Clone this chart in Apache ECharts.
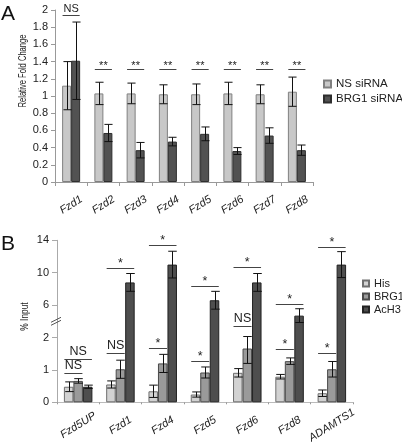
<!DOCTYPE html>
<html><head><meta charset="utf-8">
<script src="https://cdn.jsdelivr.net/npm/echarts@6/dist/echarts.min.js"></script>
<style>html,body{margin:0;padding:0;background:#fff}#c{width:402px;height:448px}</style>
</head><body><div id="c"></div>
<script>
// ---------- Panel A data ----------
const catsA = ['Fzd1','Fzd2','Fzd3','Fzd4','Fzd5','Fzd6','Fzd7','Fzd8'];
const nsA = [1.12,1.03,1.03,1.02,1.02,1.03,1.02,1.05];
const nsAErr = [0.28,0.13,0.12,0.11,0.12,0.13,0.11,0.17];
const brgA = [1.41,0.57,0.37,0.47,0.56,0.36,0.54,0.37];
const brgAErr = [0.45,0.10,0.09,0.05,0.08,0.04,0.09,0.06];
const sigAHeights = [1.94,1.31,1.31,1.31,1.31,1.31,1.31,1.31];
const sigALabels = ['NS','**','**','**','**','**','**','**'];

// ---------- Panel B data ----------
const catsB = ['Fzd5UP','Fzd1','Fzd4','Fzd5','Fzd6','Fzd8','ADAMTS1'];
const hisB = [0.48,0.55,0.34,0.24,0.91,0.79,0.28];
const hisBErr = [0.15,0.11,0.19,0.08,0.13,0.07,0.10];
const brgB = [0.66,1.02,1.20,0.92,1.66,1.27,1.02];
const brgBErr = [0.07,0.28,0.28,0.17,0.46,0.10,0.24];
const achB = [0.48,8.8,11.0,6.6,8.8,4.7,11.0];
const achBErr = [0.05,1.1,1.65,1.1,1.1,0.85,1.6];
const tickLabelsB = ['0','1','2','6','10','14'];
const sigBCats = [0,0,1,1,2,2,3,3,4,4,5,5,6,6];
const sigBFrom = [0,0,0,0,0,0,0,0,0,0,0,0,0,0];
const sigBTo   = [2,1,2,1,2,1,2,1,2,1,2,1,2,1];
const sigBHeights = [1.35,0.89,10.6,1.53,13.45,1.69,8.35,1.27,10.7,3.39,6.18,1.63,13.2,1.51];
const sigBLabels = ['NS','NS','*','NS','*','*','*','*','*','NS','*','*','*','*'];

// broken axis: 0-2 linear, above 2 compressed 4:1
const tfB = v => v <= 2 ? v : 2 + (v - 2) / 4;
const idA = v => v;
const FONT = 'Liberation Sans, Arial, sans-serif';

function errSeries(vals, errs, idx, n, bw, ai, tf) {
  return {
    type:'custom', xAxisIndex:ai, yAxisIndex:ai, z:5, silent:true,
    data: vals.map((v,i)=>[i, tf(v-errs[i]), tf(v+errs[i])]),
    renderItem(params, api) {
      const lo = api.coord([api.value(0), api.value(1)]);
      const hi = api.coord([api.value(0), api.value(2)]);
      const x = Math.round(lo[0] + (idx - (n-1)/2)*bw) + 0.5;
      const c = bw*0.45;
      const st = {stroke:'#111', lineWidth:1};
      return {type:'group', children:[
        {type:'line', shape:{x1:x,y1:hi[1],x2:x,y2:lo[1]}, style:st},
        {type:'line', shape:{x1:x-c,y1:hi[1],x2:x+c,y2:hi[1]}, style:st},
        {type:'line', shape:{x1:x-c,y1:lo[1],x2:x+c,y2:lo[1]}, style:st}]};
    }
  };
}
function sigSeries(cats, from, to, heights, labels, n, bw, ai, tf, fs) {
  return {
    type:'custom', xAxisIndex:ai, yAxisIndex:ai, z:6, silent:true,
    data: cats.map((c,i)=>[c, tf(heights[i]), from[i], to[i]]),
    renderItem(params, api) {
      const p = api.coord([api.value(0), api.value(1)]);
      const f = api.value(2), t = api.value(3);
      const x0 = p[0] + (f-(n-1)/2)*bw - 0.45*bw;
      const x1 = p[0] + (t-(n-1)/2)*bw + 0.45*bw;
      const y = Math.round(p[1]) + 0.5;
      const lab = labels[params.dataIndex];
      return {type:'group', children:[
        {type:'line', shape:{x1:x0,y1:y,x2:x1,y2:y}, style:{stroke:'#444', lineWidth:1}},
        {type:'text', x:(x0+x1)/2, y: lab === 'NS' ? y-1 : y+2,
         style:{text:lab, fill:'#222', font: fs+'px '+FONT, align:'center', verticalAlign:'bottom'}}]};
    }
  };
}
function breakSeries() {
  return {
    type:'custom', xAxisIndex:1, yAxisIndex:1, z:7, silent:true,
    data: [[0, tfB(4)]],
    renderItem(params, api) {
      const p = api.coord([0, api.value(1)]);
      const x = params.coordSys.x, y = p[1];
      const st = {stroke:'#555', lineWidth:1};
      return {type:'group', children:[
        {type:'line', shape:{x1:x-6,y1:y+1,x2:x+4,y2:y-4}, style:st},
        {type:'line', shape:{x1:x-6,y1:y+4,x2:x+4,y2:y-1}, style:st}]};
    }
  };
}

const bwA = 9, bwB = 9.5;
const axisLabelX = {rotate:32, align:'center', verticalAlign:'middle', margin:23,
  fontStyle:'italic', fontSize:11, color:'#222', fontFamily:FONT};

const chart = echarts.init(document.getElementById('c'));
chart.setOption({
  animation:false,
  textStyle:{fontFamily:FONT},
  grid:[
    {left:55, top:10, width:258, height:172},
    {left:57, top:240.3, width:296, height:162}
  ],
  xAxis:[
    {type:'category', gridIndex:0, data:catsA,
     axisLine:{lineStyle:{color:'#999'}},
     axisTick:{show:true, length:4, lineStyle:{color:'#999'}},
     axisLabel:axisLabelX},
    {type:'category', gridIndex:1, data:catsB,
     axisLine:{lineStyle:{color:'#bbb'}},
     axisTick:{show:true, length:2, lineStyle:{color:'#999'}},
     axisLabel:axisLabelX}
  ],
  yAxis:[
    {type:'value', gridIndex:0, min:0, max:2, interval:0.2,
     axisLine:{show:true, lineStyle:{color:'#999'}},
     axisTick:{show:true, length:4, lineStyle:{color:'#999'}},
     splitLine:{show:false},
     axisLabel:{fontSize:11, color:'#222', margin:7}},
    {type:'value', gridIndex:1, min:0, max:5, interval:1,
     axisLine:{show:true, lineStyle:{color:'#aaa'}},
     axisTick:{show:true, length:5, lineStyle:{color:'#aaa'}},
     splitLine:{show:false},
     axisLabel:{fontSize:11, color:'#222', margin:8, formatter:v=>tickLabelsB[v]}}
  ],
  legend:[
    {data:['NS siRNA','BRG1 siRNA'], orient:'vertical', left:318, top:73,
     itemWidth:7, itemHeight:7, itemGap:3, icon:'rect',
     textStyle:{fontSize:11.5, color:'#222', fontFamily:FONT}},
    {data:['His','BRG1','AcH3'], orient:'vertical', left:357, top:272,
     itemWidth:6, itemHeight:6, itemGap:0, icon:'rect',
     textStyle:{fontSize:11, lineHeight:13, color:'#222', fontFamily:FONT}}
  ],
  graphic:[
    {type:'text', x:1, y:14.5, style:{text:'A', font:'21px '+FONT, fill:'#111', verticalAlign:'middle'}},
    {type:'text', x:1, y:244.5, style:{text:'B', font:'21px '+FONT, fill:'#111', verticalAlign:'middle'}},
    {type:'text', x:23, y:71, rotation:Math.PI/2, scaleX:0.69,
     style:{text:'Relative Fold Change', font:'11px '+FONT, fill:'#222', align:'center', verticalAlign:'middle'}},
    {type:'text', x:25, y:316.5, rotation:Math.PI/2, scaleX:0.76,
     style:{text:'% Input', font:'11px '+FONT, fill:'#222', align:'center', verticalAlign:'middle'}}
  ],
  series:[
    {name:'NS siRNA', type:'bar', xAxisIndex:0, yAxisIndex:0, data:nsA, barWidth:bwA, barGap:'0%',
     itemStyle:{color:'#c8c8c8', borderColor:'#808080', borderWidth:1}},
    {name:'BRG1 siRNA', type:'bar', xAxisIndex:0, yAxisIndex:0, data:brgA, barWidth:bwA, barGap:'0%',
     itemStyle:{color:'#525252', borderColor:'#2e2e2e', borderWidth:1}},
    errSeries(nsA, nsAErr, 0, 2, bwA, 0, idA),
    errSeries(brgA, brgAErr, 1, 2, bwA, 0, idA),
    sigSeries(catsA.map((c,i)=>i), catsA.map(()=>0), catsA.map(()=>1), sigAHeights, sigALabels, 2, bwA, 0, idA, 11),

    {name:'His', type:'bar', xAxisIndex:1, yAxisIndex:1, data:hisB.map(tfB), barWidth:bwB, barGap:'0%',
     itemStyle:{color:'#d2d2d2', borderColor:'#6e6e6e', borderWidth:1}},
    {name:'BRG1', type:'bar', xAxisIndex:1, yAxisIndex:1, data:brgB.map(tfB), barWidth:bwB, barGap:'0%',
     itemStyle:{color:'#9a9a9a', borderColor:'#4a4a4a', borderWidth:1}},
    {name:'AcH3', type:'bar', xAxisIndex:1, yAxisIndex:1, data:achB.map(tfB), barWidth:bwB, barGap:'0%',
     itemStyle:{color:'#4e4e4e', borderColor:'#222', borderWidth:1}},
    errSeries(hisB, hisBErr, 0, 3, bwB, 1, tfB),
    errSeries(brgB, brgBErr, 1, 3, bwB, 1, tfB),
    errSeries(achB, achBErr, 2, 3, bwB, 1, tfB),
    sigSeries(sigBCats, sigBFrom, sigBTo, sigBHeights, sigBLabels, 3, bwB, 1, tfB, 12.5),
    breakSeries()
  ]
});
</script></body></html>
